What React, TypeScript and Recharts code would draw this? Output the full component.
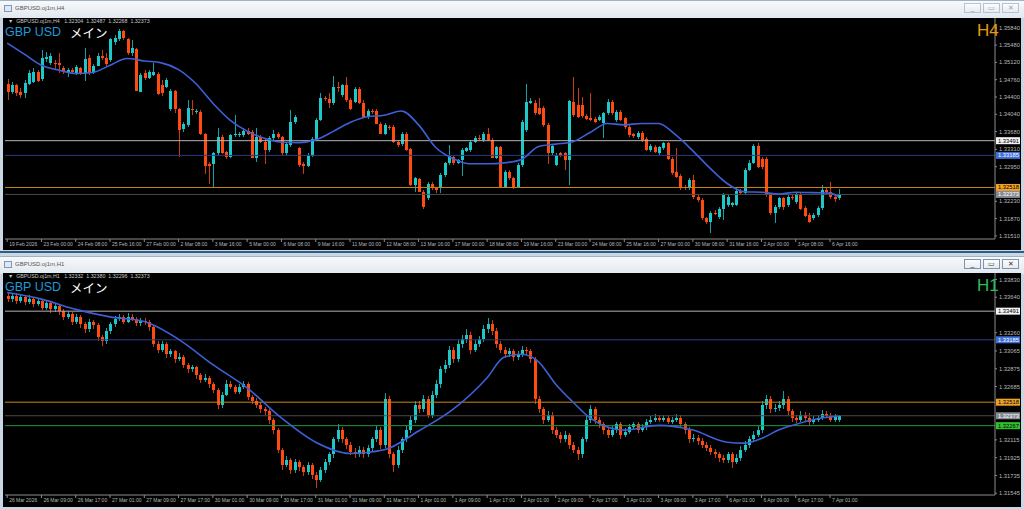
import { Bar, ComposedChart, Line, ReferenceLine, XAxis, YAxis } from 'recharts'

// ---- H4 panel data (price values) ----
const H4_OPEN = [
  1.3468, 1.3451, 1.3465, 1.3451, 1.3448, 1.3468, 1.3472, 1.3493, 1.3477, 1.3520,
  1.3510, 1.3511, 1.3510, 1.3500, 1.3489, 1.3496, 1.3489, 1.3500, 1.3489, 1.3522,
  1.3491, 1.3505, 1.3526, 1.3522, 1.3517, 1.3555, 1.3560, 1.3578, 1.3560, 1.3531,
  1.3540, 1.3451, 1.3489, 1.3479, 1.3486, 1.3488, 1.3465, 1.3461, 1.3414, 1.3453,
  1.3416, 1.3373, 1.3382, 1.3416, 1.3409, 1.3409, 1.3364, 1.3301, 1.3301, 1.3323,
  1.3357, 1.3325, 1.3316, 1.3361, 1.3361, 1.3361, 1.3370, 1.3368, 1.3314, 1.3356,
  1.3347, 1.3330, 1.3354, 1.3364, 1.3356, 1.3323, 1.3340, 1.3387, 1.3333, 1.3301,
  1.3296, 1.3317, 1.3351, 1.3392, 1.3438, 1.3436, 1.3427, 1.3461, 1.3444, 1.3465,
  1.3434, 1.3430, 1.3457, 1.3428, 1.3399, 1.3411, 1.3411, 1.3384, 1.3364, 1.3378,
  1.3378, 1.3347, 1.3342, 1.3364, 1.3331, 1.3257, 1.3269, 1.3243, 1.3229, 1.3260,
  1.3250, 1.3250, 1.3278, 1.3302, 1.3316, 1.3303, 1.3309, 1.3328, 1.3330, 1.3347,
  1.3354, 1.3351, 1.3364, 1.3351, 1.3314, 1.3335, 1.3253, 1.3285, 1.3271, 1.3253,
  1.3299, 1.3371, 1.3428, 1.3427, 1.3418, 1.3418, 1.3382, 1.3323, 1.3299, 1.3323,
  1.3323, 1.3309, 1.3430, 1.3423, 1.3423, 1.3401, 1.3396, 1.3394, 1.3392, 1.3385,
  1.3406, 1.3430, 1.3392, 1.3409, 1.3396, 1.3378, 1.3362, 1.3357, 1.3366, 1.3352,
  1.3330, 1.3337, 1.3323, 1.3333, 1.3344, 1.3312, 1.3283, 1.3276, 1.3253, 1.3250,
  1.3267, 1.3233, 1.3226, 1.3188, 1.3181, 1.3199, 1.3191, 1.3208, 1.3215, 1.3215,
  1.3215, 1.3244, 1.3241, 1.3288, 1.3303, 1.3338, 1.3312, 1.3312, 1.3236, 1.3198,
  1.3212, 1.3229, 1.3215, 1.3233, 1.3222, 1.3236, 1.3210, 1.3195, 1.3188, 1.3195,
  1.3210, 1.3247, 1.3243, 1.3233, 1.3230,
]
const H4_HIGH = [
  1.3477, 1.3472, 1.3468, 1.3458, 1.3475, 1.3496, 1.3500, 1.3496, 1.3538, 1.3534,
  1.3531, 1.3517, 1.3531, 1.3504, 1.3500, 1.3500, 1.3506, 1.3503, 1.3541, 1.3527,
  1.3509, 1.3531, 1.3538, 1.3531, 1.3562, 1.3569, 1.3581, 1.3579, 1.3562, 1.3558,
  1.3541, 1.3489, 1.3496, 1.3496, 1.3510, 1.3491, 1.3475, 1.3479, 1.3456, 1.3454,
  1.3418, 1.3389, 1.3434, 1.3434, 1.3416, 1.3413, 1.3366, 1.3305, 1.3326, 1.3375,
  1.3361, 1.3328, 1.3364, 1.3402, 1.3368, 1.3375, 1.3375, 1.3371, 1.3375, 1.3361,
  1.3354, 1.3359, 1.3371, 1.3368, 1.3359, 1.3347, 1.3413, 1.3402, 1.3337, 1.3305,
  1.3323, 1.3356, 1.3396, 1.3448, 1.3442, 1.3448, 1.3484, 1.3472, 1.3468, 1.3482,
  1.3437, 1.3461, 1.3461, 1.3434, 1.3416, 1.3416, 1.3414, 1.3387, 1.3385, 1.3382,
  1.3382, 1.3351, 1.3368, 1.3368, 1.3333, 1.3274, 1.3271, 1.3247, 1.3264, 1.3264,
  1.3253, 1.3281, 1.3305, 1.3340, 1.3319, 1.3312, 1.3333, 1.3337, 1.3351, 1.3359,
  1.3361, 1.3368, 1.3375, 1.3354, 1.3338, 1.3338, 1.3288, 1.3288, 1.3274, 1.3302,
  1.3392, 1.3468, 1.3437, 1.3434, 1.3437, 1.3421, 1.3385, 1.3342, 1.3323, 1.3326,
  1.3326, 1.3434, 1.3482, 1.3458, 1.3441, 1.3405, 1.3448, 1.3398, 1.3402, 1.3409,
  1.3435, 1.3434, 1.3413, 1.3413, 1.3399, 1.3382, 1.3366, 1.3370, 1.3370, 1.3356,
  1.3342, 1.3340, 1.3338, 1.3347, 1.3347, 1.3316, 1.3333, 1.3280, 1.3257, 1.3271,
  1.3278, 1.3236, 1.3229, 1.3191, 1.3202, 1.3204, 1.3212, 1.3240, 1.3236, 1.3222,
  1.3250, 1.3248, 1.3292, 1.3308, 1.3342, 1.3345, 1.3316, 1.3316, 1.3240, 1.3215,
  1.3233, 1.3233, 1.3236, 1.3236, 1.3241, 1.3240, 1.3213, 1.3198, 1.3198, 1.3213,
  1.3257, 1.3253, 1.3264, 1.3236, 1.3249,
]
const H4_LOW = [
  1.3434, 1.3446, 1.3442, 1.3437, 1.3437, 1.3465, 1.3468, 1.3470, 1.3474, 1.3513,
  1.3506, 1.3496, 1.3489, 1.3488, 1.3482, 1.3488, 1.3486, 1.3486, 1.3472, 1.3486,
  1.3488, 1.3503, 1.3517, 1.3503, 1.3513, 1.3548, 1.3557, 1.3558, 1.3527, 1.3524,
  1.3451, 1.3449, 1.3475, 1.3477, 1.3482, 1.3444, 1.3441, 1.3458, 1.3411, 1.3406,
  1.3316, 1.3368, 1.3378, 1.3402, 1.3405, 1.3361, 1.3281, 1.3260, 1.3253, 1.3319,
  1.3321, 1.3312, 1.3314, 1.3357, 1.3357, 1.3357, 1.3361, 1.3312, 1.3305, 1.3344,
  1.3299, 1.3326, 1.3351, 1.3353, 1.3319, 1.3319, 1.3337, 1.3384, 1.3295, 1.3281,
  1.3294, 1.3314, 1.3349, 1.3389, 1.3432, 1.3416, 1.3423, 1.3451, 1.3441, 1.3430,
  1.3413, 1.3427, 1.3425, 1.3396, 1.3396, 1.3406, 1.3382, 1.3361, 1.3361, 1.3371,
  1.3345, 1.3337, 1.3339, 1.3328, 1.3253, 1.3243, 1.3241, 1.3208, 1.3226, 1.3247,
  1.3240, 1.3240, 1.3274, 1.3299, 1.3299, 1.3301, 1.3274, 1.3326, 1.3326, 1.3344,
  1.3349, 1.3347, 1.3347, 1.3312, 1.3310, 1.3250, 1.3250, 1.3267, 1.3250, 1.3250,
  1.3295, 1.3368, 1.3425, 1.3402, 1.3402, 1.3378, 1.3299, 1.3319, 1.3295, 1.3316,
  1.3288, 1.3257, 1.3399, 1.3396, 1.3398, 1.3392, 1.3389, 1.3385, 1.3389, 1.3354,
  1.3402, 1.3402, 1.3389, 1.3391, 1.3375, 1.3357, 1.3356, 1.3354, 1.3347, 1.3326,
  1.3326, 1.3323, 1.3319, 1.3330, 1.3309, 1.3278, 1.3271, 1.3247, 1.3247, 1.3247,
  1.3229, 1.3222, 1.3184, 1.3177, 1.3156, 1.3193, 1.3188, 1.3184, 1.3212, 1.3212,
  1.3212, 1.3238, 1.3238, 1.3285, 1.3301, 1.3292, 1.3292, 1.3233, 1.3195, 1.3177,
  1.3208, 1.3205, 1.3212, 1.3226, 1.3219, 1.3205, 1.3190, 1.3177, 1.3184, 1.3191,
  1.3206, 1.3240, 1.3229, 1.3222, 1.3227,
]
const H4_CLOSE = [
  1.3451, 1.3465, 1.3448, 1.3444, 1.3470, 1.3489, 1.3493, 1.3474, 1.3522, 1.3524,
  1.3525, 1.3509, 1.3506, 1.3491, 1.3496, 1.3491, 1.3503, 1.3489, 1.3520, 1.3489,
  1.3504, 1.3526, 1.3522, 1.3509, 1.3560, 1.3562, 1.3578, 1.3562, 1.3531, 1.3541,
  1.3453, 1.3486, 1.3479, 1.3493, 1.3493, 1.3446, 1.3448, 1.3475, 1.3453, 1.3414,
  1.3371, 1.3384, 1.3418, 1.3413, 1.3411, 1.3364, 1.3296, 1.3296, 1.3323, 1.3357,
  1.3324, 1.3316, 1.3361, 1.3364, 1.3364, 1.3370, 1.3364, 1.3314, 1.3357, 1.3347,
  1.3330, 1.3355, 1.3364, 1.3356, 1.3323, 1.3342, 1.3389, 1.3398, 1.3299, 1.3296,
  1.3317, 1.3352, 1.3392, 1.3437, 1.3435, 1.3428, 1.3461, 1.3458, 1.3465, 1.3434,
  1.3416, 1.3457, 1.3428, 1.3399, 1.3411, 1.3409, 1.3384, 1.3364, 1.3382, 1.3375,
  1.3347, 1.3340, 1.3364, 1.3330, 1.3257, 1.3271, 1.3243, 1.3212, 1.3260, 1.3250,
  1.3247, 1.3278, 1.3302, 1.3317, 1.3302, 1.3309, 1.3330, 1.3333, 1.3347, 1.3354,
  1.3352, 1.3364, 1.3351, 1.3314, 1.3335, 1.3253, 1.3285, 1.3271, 1.3253, 1.3299,
  1.3389, 1.3430, 1.3431, 1.3406, 1.3405, 1.3382, 1.3323, 1.3338, 1.3319, 1.3319,
  1.3309, 1.3432, 1.3402, 1.3399, 1.3401, 1.3394, 1.3392, 1.3389, 1.3399, 1.3406,
  1.3430, 1.3406, 1.3409, 1.3393, 1.3378, 1.3361, 1.3359, 1.3366, 1.3351, 1.3330,
  1.3338, 1.3325, 1.3335, 1.3344, 1.3312, 1.3281, 1.3274, 1.3250, 1.3250, 1.3267,
  1.3233, 1.3226, 1.3188, 1.3181, 1.3198, 1.3196, 1.3208, 1.3236, 1.3233, 1.3219,
  1.3245, 1.3241, 1.3288, 1.3303, 1.3338, 1.3295, 1.3295, 1.3236, 1.3198, 1.3212,
  1.3229, 1.3212, 1.3233, 1.3229, 1.3238, 1.3208, 1.3193, 1.3181, 1.3195, 1.3210,
  1.3247, 1.3243, 1.3233, 1.3228, 1.3237,
]
// moving average, read at every 4th bar
const H4_MA_AT = [
  0, 4, 8, 12, 16, 20, 24, 28, 32, 36, 40, 44, 48, 52, 56, 60, 64, 68, 72, 76, 80, 84, 88, 92, 96,
  100, 104, 108, 112, 116, 120, 124, 128, 132, 136, 140, 144, 148, 152, 156, 160, 164, 168, 172, 176, 180, 184, 188, 192, 194,
]
const H4_MA = [
  1.3552, 1.3529, 1.3506, 1.3496, 1.3489, 1.3491, 1.3506, 1.3520, 1.3515, 1.3511, 1.3497, 1.3468, 1.3427, 1.3392, 1.3369,
  1.3354, 1.3346, 1.3345, 1.3351, 1.3368, 1.3387, 1.3399, 1.3402, 1.3411, 1.3382, 1.3335, 1.3312, 1.3301, 1.3301, 1.3303,
  1.3310, 1.3337, 1.3342, 1.3347, 1.3366, 1.3385, 1.3382, 1.3385, 1.3385, 1.3361, 1.3328, 1.3292, 1.3260, 1.3243, 1.3242,
  1.3238, 1.3242, 1.3241, 1.3240, 1.3233,
]
const H4_TIME = [
  '19 Feb 2026', '23 Feb 00:00', '24 Feb 08:00', '25 Feb 16:00', '27 Feb 00:00', '2 Mar 08:00', '3 Mar 16:00',
  '5 Mar 00:00', '6 Mar 08:00', '9 Mar 16:00', '11 Mar 00:00', '12 Mar 08:00', '13 Mar 16:00', '17 Mar 00:00',
  '18 Mar 08:00', '19 Mar 16:00', '23 Mar 00:00', '24 Mar 08:00', '25 Mar 16:00', '27 Mar 00:00', '30 Mar 08:00',
  '31 Mar 16:00', '2 Apr 00:00', '3 Apr 08:00', '6 Apr 16:00',
]
// 1.32590 sits under the orange price tag, so it is left out
const H4_PRICE_TICKS = [
  1.3151, 1.3187, 1.3223, 1.3295, 1.3331, 1.3368, 1.3404, 1.344, 1.3476, 1.3512, 1.3548, 1.3584,
]

// ---- H1 panel data ----
const H1_OPEN = [
  1.3365, 1.3362, 1.3365, 1.3360, 1.3364, 1.3359, 1.3362, 1.3357, 1.3360, 1.3353,
  1.3358, 1.3351, 1.3355, 1.3349, 1.3343, 1.3346, 1.3338, 1.3343, 1.3335, 1.3330,
  1.3338, 1.3334, 1.3321, 1.3317, 1.3328, 1.3335, 1.3341, 1.3343, 1.3338, 1.3343,
  1.3341, 1.3336, 1.3339, 1.3337, 1.3332, 1.3314, 1.3308, 1.3314, 1.3303, 1.3306,
  1.3298, 1.3300, 1.3292, 1.3287, 1.3289, 1.3281, 1.3276, 1.3278, 1.3271, 1.3265,
  1.3249, 1.3260, 1.3271, 1.3268, 1.3263, 1.3268, 1.3271, 1.3257, 1.3253, 1.3249,
  1.3244, 1.3242, 1.3233, 1.3222, 1.3201, 1.3185, 1.3190, 1.3179, 1.3188, 1.3182,
  1.3177, 1.3185, 1.3174, 1.3169, 1.3179, 1.3188, 1.3196, 1.3212, 1.3222, 1.3212,
  1.3206, 1.3199, 1.3196, 1.3201, 1.3196, 1.3203, 1.3212, 1.3222, 1.3206, 1.3255,
  1.3196, 1.3185, 1.3201, 1.3212, 1.3222, 1.3233, 1.3249, 1.3244, 1.3255, 1.3238,
  1.3260, 1.3271, 1.3287, 1.3292, 1.3308, 1.3298, 1.3314, 1.3319, 1.3324, 1.3308,
  1.3314, 1.3319, 1.3330, 1.3335, 1.3328, 1.3314, 1.3308, 1.3303, 1.3306, 1.3300,
  1.3303, 1.3308, 1.3306, 1.3298, 1.3255, 1.3244, 1.3233, 1.3238, 1.3222, 1.3217,
  1.3212, 1.3217, 1.3206, 1.3201, 1.3196, 1.3212, 1.3233, 1.3244, 1.3233, 1.3228,
  1.3222, 1.3217, 1.3222, 1.3228, 1.3217, 1.3220, 1.3225, 1.3228, 1.3222, 1.3225,
  1.3231, 1.3233, 1.3235, 1.3233, 1.3235, 1.3231, 1.3233, 1.3235, 1.3228, 1.3222,
  1.3212, 1.3214, 1.3210, 1.3206, 1.3203, 1.3199, 1.3196, 1.3192, 1.3190, 1.3196,
  1.3188, 1.3192, 1.3201, 1.3206, 1.3212, 1.3217, 1.3222, 1.3249, 1.3255, 1.3244,
  1.3246, 1.3249, 1.3255, 1.3242, 1.3235, 1.3233, 1.3238, 1.3235, 1.3231, 1.3233,
  1.3235, 1.3239, 1.3237, 1.3233, 1.3233,
]
const H1_HIGH = [
  1.3368, 1.3369, 1.3368, 1.3367, 1.3366, 1.3366, 1.3364, 1.3363, 1.3362, 1.3361,
  1.3360, 1.3358, 1.3357, 1.3351, 1.3349, 1.3348, 1.3346, 1.3345, 1.3338, 1.3341,
  1.3340, 1.3336, 1.3324, 1.3331, 1.3338, 1.3344, 1.3346, 1.3345, 1.3347, 1.3346,
  1.3343, 1.3342, 1.3342, 1.3340, 1.3334, 1.3317, 1.3317, 1.3316, 1.3309, 1.3308,
  1.3304, 1.3302, 1.3294, 1.3292, 1.3291, 1.3283, 1.3282, 1.3280, 1.3273, 1.3267,
  1.3263, 1.3275, 1.3274, 1.3270, 1.3271, 1.3274, 1.3273, 1.3260, 1.3256, 1.3252,
  1.3247, 1.3245, 1.3235, 1.3224, 1.3203, 1.3194, 1.3192, 1.3191, 1.3190, 1.3185,
  1.3188, 1.3187, 1.3177, 1.3182, 1.3191, 1.3199, 1.3215, 1.3228, 1.3225, 1.3215,
  1.3209, 1.3203, 1.3205, 1.3204, 1.3206, 1.3215, 1.3226, 1.3225, 1.3262, 1.3258,
  1.3199, 1.3205, 1.3215, 1.3226, 1.3237, 1.3253, 1.3253, 1.3259, 1.3258, 1.3264,
  1.3276, 1.3291, 1.3297, 1.3312, 1.3311, 1.3318, 1.3324, 1.3330, 1.3327, 1.3318,
  1.3323, 1.3334, 1.3342, 1.3340, 1.3331, 1.3317, 1.3311, 1.3310, 1.3309, 1.3307,
  1.3312, 1.3311, 1.3309, 1.3300, 1.3258, 1.3247, 1.3242, 1.3241, 1.3225, 1.3220,
  1.3221, 1.3219, 1.3209, 1.3204, 1.3215, 1.3237, 1.3249, 1.3247, 1.3236, 1.3231,
  1.3225, 1.3226, 1.3231, 1.3231, 1.3224, 1.3228, 1.3231, 1.3231, 1.3228, 1.3234,
  1.3237, 1.3239, 1.3238, 1.3238, 1.3238, 1.3236, 1.3239, 1.3238, 1.3231, 1.3225,
  1.3218, 1.3217, 1.3213, 1.3209, 1.3206, 1.3202, 1.3199, 1.3195, 1.3199, 1.3199,
  1.3196, 1.3205, 1.3210, 1.3216, 1.3221, 1.3226, 1.3253, 1.3260, 1.3258, 1.3250,
  1.3253, 1.3264, 1.3258, 1.3245, 1.3238, 1.3242, 1.3241, 1.3240, 1.3237, 1.3238,
  1.3243, 1.3242, 1.3240, 1.3239, 1.3238,
]
const H1_LOW = [
  1.3358, 1.3359, 1.3356, 1.3357, 1.3355, 1.3356, 1.3353, 1.3354, 1.3350, 1.3350,
  1.3347, 1.3348, 1.3345, 1.3339, 1.3340, 1.3334, 1.3335, 1.3331, 1.3326, 1.3327,
  1.3330, 1.3317, 1.3312, 1.3314, 1.3325, 1.3332, 1.3338, 1.3335, 1.3336, 1.3338,
  1.3333, 1.3333, 1.3334, 1.3328, 1.3310, 1.3304, 1.3305, 1.3299, 1.3300, 1.3294,
  1.3295, 1.3288, 1.3283, 1.3284, 1.3277, 1.3272, 1.3273, 1.3267, 1.3261, 1.3245,
  1.3246, 1.3258, 1.3265, 1.3260, 1.3260, 1.3265, 1.3254, 1.3250, 1.3245, 1.3240,
  1.3238, 1.3229, 1.3218, 1.3197, 1.3180, 1.3182, 1.3175, 1.3176, 1.3178, 1.3173,
  1.3174, 1.3170, 1.3160, 1.3166, 1.3176, 1.3185, 1.3193, 1.3209, 1.3208, 1.3202,
  1.3195, 1.3192, 1.3193, 1.3192, 1.3193, 1.3200, 1.3209, 1.3202, 1.3203, 1.3192,
  1.3178, 1.3182, 1.3198, 1.3209, 1.3219, 1.3230, 1.3240, 1.3241, 1.3234, 1.3235,
  1.3257, 1.3268, 1.3283, 1.3289, 1.3294, 1.3295, 1.3310, 1.3315, 1.3304, 1.3305,
  1.3311, 1.3316, 1.3326, 1.3324, 1.3310, 1.3304, 1.3299, 1.3300, 1.3296, 1.3297,
  1.3300, 1.3302, 1.3294, 1.3250, 1.3240, 1.3229, 1.3230, 1.3218, 1.3213, 1.3208,
  1.3209, 1.3202, 1.3197, 1.3190, 1.3193, 1.3209, 1.3230, 1.3229, 1.3224, 1.3218,
  1.3213, 1.3214, 1.3219, 1.3213, 1.3214, 1.3217, 1.3222, 1.3219, 1.3219, 1.3222,
  1.3228, 1.3230, 1.3230, 1.3230, 1.3228, 1.3228, 1.3230, 1.3225, 1.3218, 1.3208,
  1.3209, 1.3206, 1.3202, 1.3199, 1.3195, 1.3192, 1.3188, 1.3186, 1.3187, 1.3182,
  1.3185, 1.3189, 1.3198, 1.3203, 1.3209, 1.3214, 1.3219, 1.3245, 1.3240, 1.3241,
  1.3242, 1.3245, 1.3238, 1.3231, 1.3229, 1.3230, 1.3231, 1.3227, 1.3228, 1.3230,
  1.3232, 1.3234, 1.3230, 1.3230, 1.3230,
]
const H1_CLOSE = [
  1.3362, 1.3365, 1.3360, 1.3364, 1.3359, 1.3362, 1.3357, 1.3360, 1.3353, 1.3358,
  1.3351, 1.3355, 1.3349, 1.3343, 1.3346, 1.3338, 1.3343, 1.3335, 1.3330, 1.3338,
  1.3334, 1.3321, 1.3317, 1.3328, 1.3335, 1.3341, 1.3343, 1.3338, 1.3343, 1.3341,
  1.3336, 1.3339, 1.3337, 1.3332, 1.3314, 1.3308, 1.3314, 1.3303, 1.3306, 1.3298,
  1.3300, 1.3292, 1.3287, 1.3289, 1.3281, 1.3276, 1.3278, 1.3271, 1.3265, 1.3249,
  1.3260, 1.3271, 1.3268, 1.3263, 1.3268, 1.3271, 1.3257, 1.3253, 1.3249, 1.3244,
  1.3242, 1.3233, 1.3222, 1.3201, 1.3185, 1.3190, 1.3179, 1.3188, 1.3182, 1.3177,
  1.3185, 1.3174, 1.3169, 1.3179, 1.3188, 1.3196, 1.3212, 1.3222, 1.3212, 1.3206,
  1.3199, 1.3196, 1.3201, 1.3196, 1.3203, 1.3212, 1.3222, 1.3206, 1.3255, 1.3196,
  1.3185, 1.3201, 1.3212, 1.3222, 1.3233, 1.3249, 1.3244, 1.3255, 1.3238, 1.3260,
  1.3271, 1.3287, 1.3292, 1.3308, 1.3298, 1.3314, 1.3319, 1.3324, 1.3308, 1.3314,
  1.3319, 1.3330, 1.3335, 1.3328, 1.3314, 1.3308, 1.3303, 1.3306, 1.3300, 1.3303,
  1.3308, 1.3306, 1.3298, 1.3255, 1.3244, 1.3233, 1.3238, 1.3222, 1.3217, 1.3212,
  1.3217, 1.3206, 1.3201, 1.3196, 1.3212, 1.3233, 1.3244, 1.3233, 1.3228, 1.3222,
  1.3217, 1.3222, 1.3228, 1.3217, 1.3220, 1.3225, 1.3228, 1.3222, 1.3225, 1.3231,
  1.3233, 1.3235, 1.3233, 1.3235, 1.3231, 1.3233, 1.3235, 1.3228, 1.3222, 1.3212,
  1.3214, 1.3210, 1.3206, 1.3203, 1.3199, 1.3196, 1.3192, 1.3190, 1.3196, 1.3188,
  1.3192, 1.3201, 1.3206, 1.3212, 1.3217, 1.3222, 1.3249, 1.3255, 1.3244, 1.3246,
  1.3249, 1.3255, 1.3242, 1.3235, 1.3233, 1.3238, 1.3235, 1.3231, 1.3233, 1.3235,
  1.3239, 1.3237, 1.3233, 1.3236, 1.3237,
]
const H1_MA_AT = [
  0, 8, 16, 24, 32, 40, 48, 56, 64, 72, 80, 88, 96, 104, 112, 116, 120, 124, 128, 132, 136, 144, 152, 160, 168, 172,
  176, 180, 184, 188, 194,
]
const H1_MA = [
  1.3369, 1.3362, 1.3351, 1.3343, 1.3338, 1.3319, 1.3292, 1.3267, 1.3235, 1.3209, 1.3197, 1.3201, 1.3221, 1.3244,
  1.3278, 1.33, 1.3303, 1.3295, 1.3271, 1.3252, 1.3235, 1.3222, 1.3227, 1.3222, 1.3209, 1.3208, 1.3213, 1.3222,
  1.3228, 1.3233, 1.3237,
]
const H1_TIME = [
  '26 Mar 2026', '26 Mar 09:00', '26 Mar 17:00', '27 Mar 01:00', '27 Mar 09:00', '27 Mar 17:00', '30 Mar 01:00',
  '30 Mar 09:00', '30 Mar 17:00', '31 Mar 01:00', '31 Mar 09:00', '31 Mar 17:00', '1 Apr 01:00', '1 Apr 09:00',
  '1 Apr 17:00', '2 Apr 01:00', '2 Apr 09:00', '2 Apr 17:00', '3 Apr 01:00', '3 Apr 09:00', '3 Apr 17:00',
  '6 Apr 01:00', '6 Apr 09:00', '6 Apr 17:00', '7 Apr 01:00',
]
// 1.33450, 1.32495 and 1.32305 sit under price tags, so they are left out
const H1_PRICE_TICKS = [
  1.31545, 1.31735, 1.31925, 1.32115, 1.32685, 1.32875, 1.33065, 1.3326, 1.3364, 1.3383,
]

// horizontal levels drawn on both charts
const LEVELS = [
  { price: 1.33491, line: '#b4b4b4', box: '#f2f2f2', text: '#000' },
  { price: 1.33185, line: '#2a3c80', box: '#3e6fd8', text: '#fff' },
  { price: 1.32518, line: '#c8861c', box: '#f0a12a', text: '#000' },
  { price: 1.32373, line: '#4c4c4c', box: '#858b93', text: '#fff' },
]
const H1_EXTRA_LEVEL = { price: 1.32267, line: '#1f9c3a', box: '#2ec22e', text: '#000' }

const SLOTS = 231
const BULL = '#1ec8c8'
const BEAR = '#ff4a10'
const WICK_UP = '#14a0a0'
const WICK_DN = '#c83c14'
const AXIS = '#8c8c8c'
const LABEL = '#b8b8b8'
const FONT = '"Liberation Sans", Arial, sans-serif'

type Row = { i: number; o?: number; h?: number; l?: number; c?: number; ma?: number }

function buildRows(o: number[], h: number[], l: number[], c: number[], maAt: number[], ma: number[]) {
  const rows: Row[] = []
  for (let i = 0; i < SLOTS; i++) rows.push({ i })
  o.forEach((v, i) => {
    rows[i].o = v
    rows[i].h = Math.max(h[i], v, c[i])
    rows[i].l = Math.min(l[i], v, c[i])
    rows[i].c = c[i]
  })
  maAt.forEach((idx, k) => {
    rows[idx].ma = ma[k]
  })
  return rows
}

function Candle(props: any) {
  const { x, y, width, height, payload } = props
  if (!payload || payload.o == null) return null
  const { o, h, l, c } = payload
  const top = Math.min(y, y + height)
  const span = Math.abs(height)
  const k = h - l > 0 ? span / (h - l) : 0
  const py = (v: number) => top + (h - v) * k
  const cx = Math.round(x + width / 2)
  const up = c >= o
  const bTop = Math.round(py(Math.max(o, c)))
  const bBot = Math.round(py(Math.min(o, c)))
  return (
    <g shapeRendering="crispEdges">
      <rect x={cx} y={Math.round(top)} width={1} height={Math.max(1, Math.round(span))} fill={up ? WICK_UP : WICK_DN} />
      <rect x={cx - 1} y={bTop} width={3} height={Math.max(1, bBot - bTop)} fill={up ? BULL : BEAR} />
    </g>
  )
}

function TimeTick(props: any) {
  const { x, y, payload, labels } = props
  const label = labels[Math.round(payload.value / 8)]
  return (
    <g>
      <line x1={x} x2={x} y1={y} y2={y + 3} stroke={AXIS} strokeWidth={1} />
      <text x={x + 2} y={y + 7} fontSize={5} fill={LABEL} fontFamily={FONT}>
        {label}
      </text>
    </g>
  )
}

function PriceTag(props: any) {
  const { viewBox, price, box, text } = props
  if (!viewBox) return null
  const x = viewBox.x + viewBox.width + 1
  return (
    <g>
      <rect x={x} y={viewBox.y - 3.5} width={24} height={7} fill={box} />
      <text x={x + 2} y={viewBox.y + 2} fontSize={5.8} fill={text} fontFamily={FONT}>
        {price.toFixed(5)}
      </text>
    </g>
  )
}

interface PanelProps {
  top: number
  height: number
  xAxisHeight: number
  rows: Row[]
  domain: [number, number]
  priceTicks: number[]
  timeLabels: string[]
  levels: typeof LEVELS
}

function Panel({ top, height, xAxisHeight, rows, domain, priceTicks, timeLabels, levels }: PanelProps) {
  const timeTicks = timeLabels.map((_, k) => k * 8)
  return (
    <div style={{ position: 'absolute', left: 4, top }}>
      <ComposedChart width={1016} height={height} data={rows} margin={{ top: 0, right: 0, bottom: 0, left: 1 }} barCategoryGap={0}>
        <XAxis
          dataKey="i"
          type="category"
          ticks={timeTicks}
          interval={0}
          height={xAxisHeight}
          tickSize={0}
          tickMargin={0}
          axisLine={{ stroke: AXIS }}
          tickLine={false}
          tick={(p: any) => <TimeTick {...p} labels={timeLabels} />}
        />
        <YAxis
          orientation="right"
          type="number"
          width={25}
          domain={domain}
          allowDataOverflow
          ticks={priceTicks}
          interval={0}
          tickSize={2}
          tickMargin={2}
          axisLine={{ stroke: AXIS }}
          tickLine={{ stroke: AXIS }}
          tick={{ fontSize: 5.8, fill: LABEL, fontFamily: FONT }}
          tickFormatter={(v: number) => v.toFixed(5)}
        />
        {levels.map((lv) => (
          <ReferenceLine
            key={lv.price}
            y={lv.price}
            stroke={lv.line}
            strokeWidth={1}
            label={(p: any) => <PriceTag viewBox={p.viewBox} price={lv.price} box={lv.box} text={lv.text} />}
          />
        ))}
        <Bar
          dataKey={(d: Row) => (d.l == null ? null : [d.l, d.h])}
          barSize={3}
          shape={Candle}
          isAnimationActive={false}
        />
        <Line
          dataKey="ma"
          type="monotone"
          connectNulls
          dot={false}
          activeDot={false}
          stroke="#3d60d8"
          strokeWidth={1.6}
          isAnimationActive={false}
        />
      </ComposedChart>
    </div>
  )
}

function WinButtons({ top, active }: { top: number; active: boolean }) {
  const border = active ? '#7f93aa' : '#b7c3d0'
  const glyph = active ? '#333' : '#9aa4b0'
  return (
    <>
      {['_', '▭', '✕'].map((g, k) => (
        <div
          key={k}
          style={{
            position: 'absolute',
            left: 964 + k * 19,
            top,
            width: 17,
            height: 10,
            border: `1px solid ${border}`,
            boxSizing: 'border-box',
            background: 'linear-gradient(#fbfcfd, #e6ebf1)',
            fontSize: 7,
            lineHeight: '8px',
            textAlign: 'center',
            color: glyph,
            fontFamily: FONT,
          }}
        >
          {g}
        </div>
      ))}
    </>
  )
}

function TitleBar({ top, title, active }: { top: number; title: string; active: boolean }) {
  return (
    <>
      <div
        style={{
          position: 'absolute',
          left: 0,
          top,
          width: 1024,
          height: 18,
          background: 'linear-gradient(#f7f9fb, #e2e8ef)',
          borderTop: '1px solid #9fb2c6',
          boxSizing: 'border-box',
        }}
      />
      <div
        style={{
          position: 'absolute',
          left: 4,
          top: top + 5,
          width: 8,
          height: 7,
          border: '1px solid #7f98b6',
          background: '#dfe9f5',
          boxSizing: 'border-box',
        }}
      />
      <div style={{ position: 'absolute', left: 15, top: top + 5, fontSize: 6, color: '#555', fontFamily: FONT }}>{title}</div>
      <WinButtons top={top + 3} active={active} />
    </>
  )
}

function Overlay({ top, header, tf, tfColor }: { top: number; header: string; tf: string; tfColor: string }) {
  return (
    <>
      <div
        style={{
          position: 'absolute',
          left: 8,
          top: top,
          fontSize: 5.3,
          lineHeight: '6px',
          color: '#c8c8c8',
          fontFamily: FONT,
          whiteSpace: 'pre',
        }}
      >
        {header}
      </div>
      <div style={{ position: 'absolute', left: 5, top: top + 8, fontSize: 12.5, color: '#1e9ad8', fontFamily: FONT, lineHeight: '12px' }}>
        GBP USD
      </div>
      <div
        style={{
          position: 'absolute',
          left: 70,
          top: top + 9,
          fontSize: 12.5,
          color: '#ffffff',
          fontFamily: '"Noto Sans CJK JP", sans-serif',
          lineHeight: '12px',
        }}
      >
        メイン
      </div>
      <div style={{ position: 'absolute', left: 977, top: top + 4, fontSize: 17, color: tfColor, fontFamily: FONT, lineHeight: '18px' }}>
        {tf}
      </div>
    </>
  )
}

export default function App() {
  const h4Rows = buildRows(H4_OPEN, H4_HIGH, H4_LOW, H4_CLOSE, H4_MA_AT, H4_MA)
  const h1Rows = buildRows(H1_OPEN, H1_HIGH, H1_LOW, H1_CLOSE, H1_MA_AT, H1_MA)
  return (
    <div
      style={{
        position: 'fixed',
        left: 0,
        top: 0,
        width: 1024,
        height: 509,
        overflow: 'hidden',
        background: '#c9d6e4',
      }}
    >
      {/* H4 window */}
      <TitleBar top={0} title="GBPUSD.oj1m,H4" active={false} />
      <div style={{ position: 'absolute', left: 3, top: 18, width: 1018, height: 232, background: '#000' }} />
      <Panel
        top={18}
        height={231}
        xAxisHeight={10}
        rows={h4Rows}
        domain={[1.31446, 1.36043]}
        priceTicks={H4_PRICE_TICKS}
        timeLabels={H4_TIME}
        levels={LEVELS}
      />
      <Overlay top={18} header="▼  GBPUSD.oj1m,H4   1.32304  1.32487  1.32268  1.32373" tf="H4" tfColor="#e59c12" />

      {/* separator between windows */}
      <div style={{ position: 'absolute', left: 0, top: 251, width: 1024, height: 2, background: '#2f5f84' }} />

      {/* H1 window */}
      <TitleBar top={256} title="GBPUSD.oj1m,H1" active />
      <div style={{ position: 'absolute', left: 3, top: 273, width: 1018, height: 234, background: '#000' }} />
      <Panel
        top={273}
        height={233}
        xAxisHeight={11}
        rows={h1Rows}
        domain={[1.31526, 1.33899]}
        priceTicks={H1_PRICE_TICKS}
        timeLabels={H1_TIME}
        levels={[...LEVELS, H1_EXTRA_LEVEL]}
      />
      <Overlay top={273} header="▼  GBPUSD.oj1m,H1   1.32332  1.32380  1.32296  1.32373" tf="H1" tfColor="#2dbd55" />
    </div>
  )
}
